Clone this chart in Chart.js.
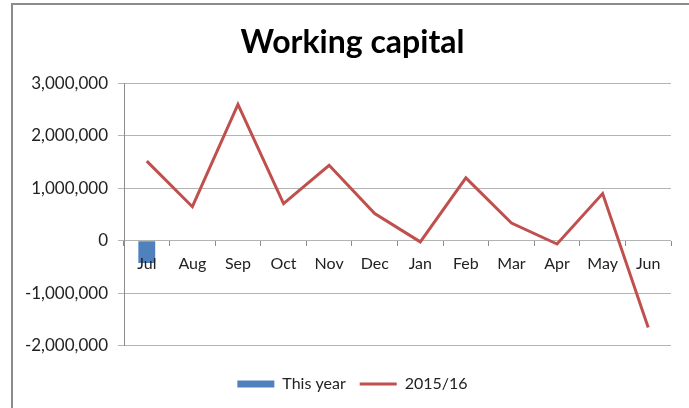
<!DOCTYPE html>
<html>
<head>
<meta charset="utf-8">
<script src="https://cdn.jsdelivr.net/npm/chart.js@4.4.1/dist/chart.umd.min.js"></script>
<style>
    body { margin: 0; background: #fff; }
    #wrap { position: relative; width: 689px; height: 408px; overflow: hidden; }
    #frame { position: absolute; left: 11px; top: 3px; width: 700px; height: 420px;
             border-left: 2px solid #8c8c8c; border-top: 2px solid #8c8c8c; }
    canvas { position: absolute; left: 0; top: 0; }
</style>
</head>
<body>
<div id="wrap">
    <div id="frame"></div>
    <canvas id="wc-chart" width="689" height="408"></canvas>
</div>
<script>
const months = ['Jul', 'Aug', 'Sep', 'Oct', 'Nov', 'Dec', 'Jan', 'Feb', 'Mar', 'Apr', 'May', 'Jun'];
const thisYear = [-420000, null, null, null, null, null, null, null, null, null, null, null];
const lastYear = [1520000, 650000, 2600000, 710000, 1440000, 520000, -20000, 1200000, 340000, -60000, 900000, -1650000];
const yTicks = [-2000000, -1000000, 0, 1000000, 2000000, 3000000];

const fontFamily = 'Lato, "Open Sans", sans-serif';
const textColor = '#222';

const ctx = document.getElementById('wc-chart').getContext('2d');
const chart = new Chart(ctx, {
    type: 'bar',
    data: {
        labels: months,
        datasets: [{
            type: 'bar',
            label: 'This year',
            data: thisYear,
            backgroundColor: '#4f81bd',
            borderWidth: 0,
            barPercentage: 0.37,
            categoryPercentage: 1,
            order: 2
        }, {
            type: 'line',
            label: '2015/16',
            data: lastYear,
            borderColor: '#c0504d',
            backgroundColor: '#c0504d',
            borderWidth: 3,
            pointRadius: 0,
            tension: 0,
            order: 1
        }]
    },
    options: {
        responsive: false,
        animation: false,
        // title and legend are centred a bit right of the plot, like the original frame
        layout: { padding: { left: 16, right: 0, top: 0, bottom: 6 } },
        plugins: {
            title: {
                display: true,
                text: 'Working capital',
                color: '#000',
                font: { family: fontFamily, size: 32, weight: 'bold' },
                padding: { top: 23, bottom: 22 }
            },
            legend: {
                position: 'bottom',
                title: { display: true, text: '', padding: { top: 15, bottom: 0 }, font: { size: 1 } },
                labels: {
                    usePointStyle: true,
                    pointStyleWidth: 37,
                    boxHeight: 7,
                    padding: 14,
                    color: textColor,
                    font: { family: fontFamily, size: 16 },
                    sort: (a, b) => a.datasetIndex - b.datasetIndex,
                    generateLabels: (c) => Chart.defaults.plugins.legend.labels.generateLabels(c).map((item) => {
                        const isBar = item.datasetIndex === 0;
                        item.pointStyle = isBar ? 'rect' : 'line';
                        item.lineWidth = isBar ? 0 : 3;
                        return item;
                    })
                }
            },
            tooltip: { enabled: false }
        },
        scales: {
            x: {
                type: 'category',
                position: { y: 0 },
                offset: true,
                grid: { drawOnChartArea: false, offset: true, tickLength: 5, color: '#8c8c8c' },
                border: { display: false },
                ticks: { z: 1, color: textColor, font: { family: fontFamily, size: 16 }, padding: 8, maxRotation: 0 }
            },
            y: {
                min: -2000000,
                max: 3000000,
                afterBuildTicks: (scale) => { scale.ticks = yTicks.map(v => ({ value: v })); },
                afterFit: (scale) => { scale.width = 108; },
                grid: { color: '#b4b4b4', tickLength: 6 },
                border: { display: true, color: '#8c8c8c' },
                ticks: {
                    color: textColor,
                    padding: 10,
                    font: { family: fontFamily, size: 17 },
                    callback: (v) => v.toLocaleString('en-US')
                }
            },
            // empty right axis, only keeps space to the right of the plot
            yRight: {
                type: 'linear',
                position: 'right',
                grid: { display: false },
                border: { display: false },
                ticks: { display: false },
                afterFit: (scale) => { scale.width = 18; }
            }
        }
    }
});
</script>
</body>
</html>
